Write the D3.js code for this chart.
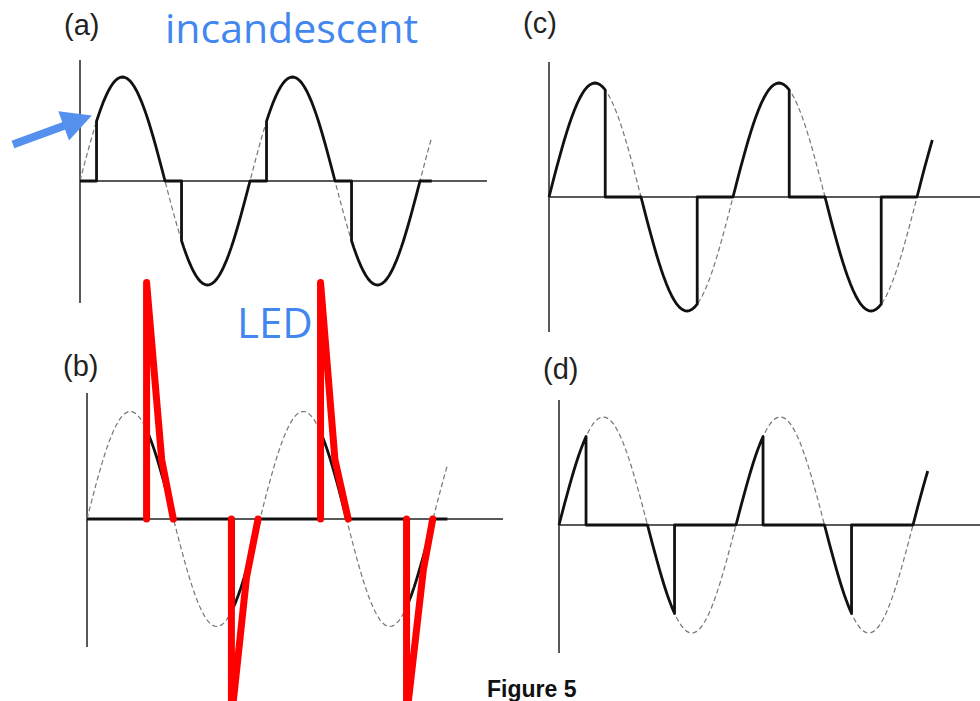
<!DOCTYPE html>
<html>
<head>
<meta charset="utf-8">
<script src="https://cdn.jsdelivr.net/npm/d3@7"></script>
<style>
  html, body { margin: 0; padding: 0; background: #fff; overflow: hidden; }
  svg { display: block; }
</style>
</head>
<body>
<script>
// ---------------- DATA ----------------
// Normalised mains waveform, one half cycle, sampled every 5 degrees (0..180)
const stepDeg = 5;
const halfWave = [0, 0.087, 0.174, 0.259, 0.342, 0.423, 0.5, 0.574, 0.643, 0.707,
  0.766, 0.819, 0.866, 0.906, 0.940, 0.966, 0.985, 0.996, 1, 0.996, 0.985, 0.966,
  0.940, 0.906, 0.866, 0.819, 0.766, 0.707, 0.643, 0.574, 0.5, 0.423, 0.342, 0.259,
  0.174, 0.087, 0];

const panelIds = ["a", "b", "c", "d"];
const panelLabels = ["(a)", "(b)", "(c)", "(d)"];
const dimmerType = ["leading", "leading", "trailing", "trailing"];
const cutAngles = [35, 125, 110, 55];      // degrees into each half cycle
const endAngles = [745, 750, 750, 750];    // last drawn phase (degrees)

// Hand-drawn red LED current spikes on panel (b): [phase deg, value]
const ledSpikes = [
  [[124, 0], [124, 2.2], [155.5, 0.55], [179.6, 0]],
  [[486, 0], [486, 2.2], [516, 0.55], [543.5, 0]],
  [[300.5, 0], [300.5, -1.86], [332, -0.54], [356, 0]],
  [[665, 0], [665, -1.84], [700, -0.47], [719.5, 0]]
];

// Annotation texts / arrow (panel (a) data coordinates)
const titleTexts = ["incandescent", "LED"];
const arrowFrom = [-142, 0.35];
const arrowTo = [25, 0.63];
const figureCaption = "Figure 5";

// ---------------- LAYOUT ----------------
const W = 980, H = 701;
const layout = {
  a: { x0: 80,  half: 85,   base: 181, amp: 104,   yTop: 60,  yBot: 303, axisEnd: 487, lx: 64,  ly: 35 },
  b: { x0: 87,  half: 86.5, base: 519, amp: 107.5, yTop: 393, yBot: 647, axisEnd: 503, lx: 63,  ly: 376 },
  c: { x0: 549, half: 92,   base: 197, amp: 114,   yTop: 62,  yBot: 332, axisEnd: 980, lx: 523, ly: 33 },
  d: { x0: 559, half: 88.5, base: 525, amp: 108,   yTop: 400, yBot: 653, axisEnd: 980, lx: 543, ly: 379 }
};

const svg = d3.select("body").append("svg")
  .attr("width", W).attr("height", H)
  .attr("viewBox", `0 0 ${W} ${H}`);
svg.append("rect").attr("width", W).attr("height", H).attr("fill", "#fff");

function wave(deg) {
  const k = Math.round(deg / stepDeg);
  const h = Math.floor(k / 36);
  const i = k % 36;
  return (h % 2 === 0 ? 1 : -1) * halfWave[i];
}

function choppedSeries(type, a, end) {
  const pts = [];
  for (let s = 0; s < end; s += 180) {
    const e = Math.min(s + 180, end);
    if (type === "leading") {
      const f = s + a;
      if (f >= e) { pts.push([s, 0], [e, 0]); continue; }
      pts.push([s, 0], [f, 0]);
      for (let d = f; d <= e; d += stepDeg) pts.push([d, wave(d)]);
    } else {
      const c = Math.min(s + a, e);
      for (let d = s; d <= c; d += stepDeg) pts.push([d, wave(d)]);
      if (c < e) pts.push([c, 0], [e, 0]);
    }
  }
  return pts;
}

const scales = {};
panelIds.forEach((id, pi) => {
  const L = layout[id];
  const x = d3.scaleLinear().domain([0, 180]).range([L.x0, L.x0 + L.half]);
  const y = d3.scaleLinear().domain([-1, 1]).range([L.base + L.amp, L.base - L.amp]);
  scales[id] = { x, y };
  const g = svg.append("g").attr("class", "panel-" + id);

  // axes
  g.append("line")
    .attr("x1", x(0)).attr("x2", x(0))
    .attr("y1", L.yTop).attr("y2", L.yBot)
    .attr("stroke", "#222").attr("stroke-width", 1.5);
  g.append("line")
    .attr("x1", x(0)).attr("x2", L.axisEnd)
    .attr("y1", y(0)).attr("y2", y(0))
    .attr("stroke", "#222").attr("stroke-width", 1.5);

  const line = d3.line().x(d => x(d[0])).y(d => y(d[1]));

  // reference sine (dashed)
  const full = d3.range(0, endAngles[pi] + 1, stepDeg).map(d => [d, wave(d)]);
  g.append("path").datum(full)
    .attr("d", line)
    .attr("fill", "none")
    .attr("stroke", "#777")
    .attr("stroke-width", 1.2)
    .attr("stroke-dasharray", "5,3");

  // chopped waveform (solid)
  g.append("path").datum(choppedSeries(dimmerType[pi], cutAngles[pi], endAngles[pi]))
    .attr("d", line)
    .attr("fill", "none")
    .attr("stroke", "#111")
    .attr("stroke-width", 2.8)
    .attr("stroke-linejoin", "round");

  // label
  svg.append("text")
    .attr("x", L.lx).attr("y", L.ly)
    .attr("font-family", "'Liberation Sans', Arial, sans-serif")
    .attr("font-size", 29)
    .attr("fill", "#222")
    .text(panelLabels[pi]);
});

// red LED spikes on panel (b)
const sb = scales.b;
const redLine = d3.line().x(d => sb.x(d[0])).y(d => sb.y(d[1]));
svg.append("g").selectAll("path").data(ledSpikes).join("path")
  .attr("d", redLine)
  .attr("fill", "none")
  .attr("stroke", "#ff0000")
  .attr("stroke-width", 7)
  .attr("stroke-linecap", "round")
  .attr("stroke-linejoin", "round");

// blue annotations
const blue = "#4287f0";
svg.append("text")
  .attr("x", 165).attr("y", 43)
  .attr("font-family", "'Open Sans', sans-serif")
  .attr("font-size", 41)
  .attr("fill", blue)
  .text(titleTexts[0]);
svg.append("text")
  .attr("x", 237).attr("y", 338)
  .attr("font-family", "'Open Sans', sans-serif")
  .attr("font-size", 42)
  .attr("fill", blue)
  .text(titleTexts[1]);

// arrow
const sa = scales.a;
const p0 = [sa.x(arrowFrom[0]), sa.y(arrowFrom[1])];
const p1 = [sa.x(arrowTo[0]), sa.y(arrowTo[1])];
const dx = p1[0] - p0[0], dy = p1[1] - p0[1];
const len = Math.hypot(dx, dy);
const ux = dx / len, uy = dy / len;
const headLen = 30, headHalf = 15.5;
const hb = [p1[0] - ux * headLen, p1[1] - uy * headLen];
svg.append("line")
  .attr("x1", p0[0]).attr("y1", p0[1])
  .attr("x2", hb[0] + ux * 2).attr("y2", hb[1] + uy * 2)
  .attr("stroke", "#5590ee").attr("stroke-width", 8);
svg.append("path")
  .attr("d", `M${p1[0]},${p1[1]} L${hb[0] - uy * headHalf},${hb[1] + ux * headHalf} L${hb[0] + uy * headHalf},${hb[1] - ux * headHalf} Z`)
  .attr("fill", "#5590ee");

// caption
svg.append("text")
  .attr("x", 487).attr("y", 697)
  .attr("font-family", "'Liberation Sans', Arial, sans-serif")
  .attr("font-weight", "bold")
  .attr("font-size", 23)
  .attr("fill", "#111")
  .text(figureCaption);
</script>
</body>
</html>
